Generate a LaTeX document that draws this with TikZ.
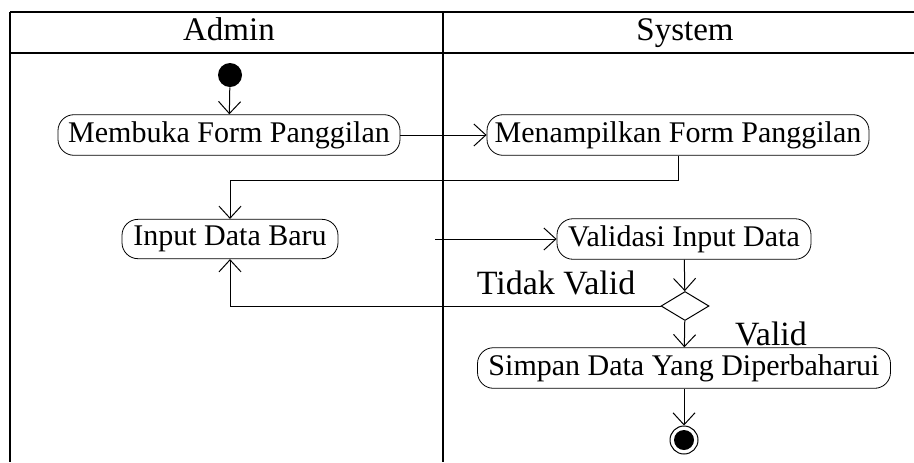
\documentclass[tikz,border=0pt]{standalone}
\usepackage{fontspec}
\setmainfont{Liberation Serif}
\usetikzlibrary{arrows.meta}
\usetikzlibrary{shapes.geometric}
\tikzstyle{lane}=[line width=1pt]
\tikzstyle{header}=[anchor=base, font=\fontsize{16.5}{20}\selectfont]
\tikzstyle{activity}=[draw, rounded corners=8pt, minimum height=19pt, inner xsep=2pt, font=\fontsize{15}{18}\selectfont]
\tikzstyle{flow}=[line width=0.5pt, -{Straight Barb[length=6pt,width=11pt]}]
\tikzstyle{guard}=[font=\fontsize{17}{20}\selectfont]

\begin{document}
\begin{tikzpicture}[x=0.5pt, y=-0.5pt]
          \useasboundingbox (0, 0) rectangle (914, 462);
          % swimlanes
          \draw[lane] (10, 12) -- (914, 12) (10, 53) -- (914, 53);
          \draw[lane] (10, 12) -- (10, 462) (443, 12) -- (443, 462);
          \node[header] (admin) at (229, 40) {Admin};
          \node[header] (system) at (685, 40) {System};

          \node[circle, fill, inner sep=0, minimum size=12pt] (start) at (230, 75) {};
          \node[activity, minimum width=171pt] (membuka) at (229, 135) {Membuka Form Panggilan};
          \node[activity, minimum width=191pt] (menampilkan) at (678, 135) {Menampilkan Form Panggilan};
          \node[activity, minimum width=108pt] (input) at (230, 239) {Input Data Baru};
          \node[activity, minimum width=127pt] (validasi) at (684, 239) {Validasi Input Data};
          \node[diamond, draw, line width=0.5pt, inner sep=0, minimum width=24pt, minimum height=14.5pt] (cek) at (685, 306) {};
          \node[activity, minimum width=206.5pt] (simpan) at (684, 368) {Simpan Data Yang Diperbaharui};
          \node[circle, draw, line width=0.5pt, inner sep=0, minimum size=14pt] (end) at (684, 440) {};
          \fill (end.center) circle (5pt);
          \coordinate (gap) at (435, 239);

          \node[guard] (tidak) at (556, 283) {Tidak Valid};
          \node[guard] (valid) at (771, 334) {Valid};

          \draw[flow] (start) -- (membuka);
          \draw[flow] (membuka) -- (menampilkan);
          \draw[flow] (menampilkan.south) -- ++(0, 25) -| (input.north);
          \draw[flow] (gap) -- (validasi);
          \draw[flow] (validasi) -- (cek);
          \draw[flow] (cek.west) -| (input.south);
          \draw[flow] (cek) -- (simpan);
          \draw[flow] (simpan) -- (end);
        \end{tikzpicture}
\end{document}
